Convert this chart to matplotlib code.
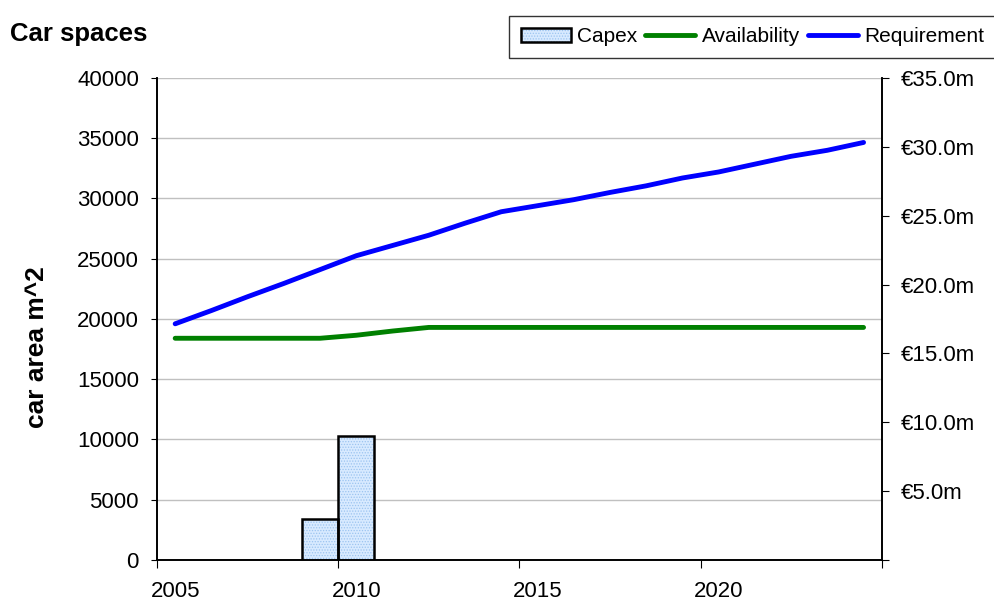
import matplotlib
matplotlib.use('Agg')
import matplotlib.pyplot as plt
from matplotlib.ticker import FuncFormatter

# Arial-like font
plt.rcParams['font.family'] = ['Liberation Sans', 'DejaVu Sans']
plt.rcParams['hatch.linewidth'] = 0.6

# data
years = list(range(2005, 2025))
requirement = [19600, 20700, 21850, 22950, 24100, 25250, 26100, 26950, 27950, 28900,
               29400, 29900, 30500, 31050, 31700, 32200, 32850, 33500, 34000, 34650]
availability = [18400, 18400, 18400, 18400, 18400, 18650, 19000, 19300, 19300, 19300,
                19300, 19300, 19300, 19300, 19300, 19300, 19300, 19300, 19300, 19300]
capex_years = [2009, 2010]
capex = [3.0, 9.0]  # in €m
xtick_years = [2005, 2010, 2015, 2020]

fig = plt.figure(figsize=(9.94, 6.05), dpi=100)
ax = fig.add_axes([0.158, 0.0744, 0.729, 0.7967])
ax2 = ax.twinx()

# lines sit in the middle of each year
x_mid = [y + 0.5 for y in years]
ax.plot(x_mid, availability, color='#008000', linewidth=3.5, solid_capstyle='round',
        solid_joinstyle='round', label='Availability')
ax.plot(x_mid, requirement, color='#0000ff', linewidth=3.5, solid_capstyle='round',
        solid_joinstyle='round', label='Requirement')

# capex bars on the right axis: dotted fill + black outline
bar_x = [y + 0.5 for y in capex_years]
fill = ax2.bar(bar_x, capex, width=1.0, color='#d8eaff', edgecolor='#9cc4f0',
               linewidth=0, hatch='......')
edge = ax2.bar(bar_x, capex, width=1.0, fill=False, edgecolor='black', linewidth=1.8)

# left axis
ax.set_ylim(0, 40000)
ax.set_yticks(range(0, 40001, 5000))
ax.yaxis.grid(True, color='#c0c0c0', linewidth=1)
ax.set_axisbelow(True)
ax.tick_params(axis='y', direction='out', length=4, pad=9, labelsize=16)

# x axis: tick marks at years, labels shifted half a year
ax.set_xlim(2005, 2025)
ax.set_xticks(range(2005, 2026, 5))
ax.tick_params(axis='x', which='major', direction='out', length=6, labelbottom=False)
ax.set_xticks([y + 0.5 for y in xtick_years], minor=True)
ax.set_xticklabels([str(y) for y in xtick_years], minor=True)
ax.tick_params(axis='x', which='minor', length=0, pad=15, labelsize=16)

# right axis
ax2.set_ylim(0, 35)
ax2.set_yticks(range(0, 36, 5))
ax2.yaxis.set_major_formatter(FuncFormatter(lambda v, p: '' if v == 0 else f'€{v:.1f}m'))
ax2.tick_params(axis='y', direction='out', length=5, pad=9, labelsize=16)

for a in (ax, ax2):
    a.spines['top'].set_visible(False)
    for s in ('left', 'right', 'bottom'):
        a.spines[s].set_linewidth(1.2)

# texts
fig.text(0.01, 1 - 34 / 605, 'Car spaces', fontweight='bold', fontsize=18.5, va='center')
fig.text(0.037, 1 - 347 / 605, 'car area m^2', rotation=90, fontweight='bold', fontsize=19,
         ha='center', va='center')

# legend
h2, l2 = ax.get_legend_handles_labels()
leg = fig.legend([(fill[0], edge[0])] + h2, ['Capex'] + l2, loc='upper right',
                 bbox_to_anchor=(1.002, 1 - 16 / 605), borderaxespad=0, ncol=3,
                 frameon=True, fancybox=False, edgecolor='black', fontsize=15,
                 handlelength=2.4, columnspacing=0.4, handletextpad=0.3, borderpad=0.55)
leg.get_frame().set_linewidth(1)

fig.savefig('out.png', dpi=100)
